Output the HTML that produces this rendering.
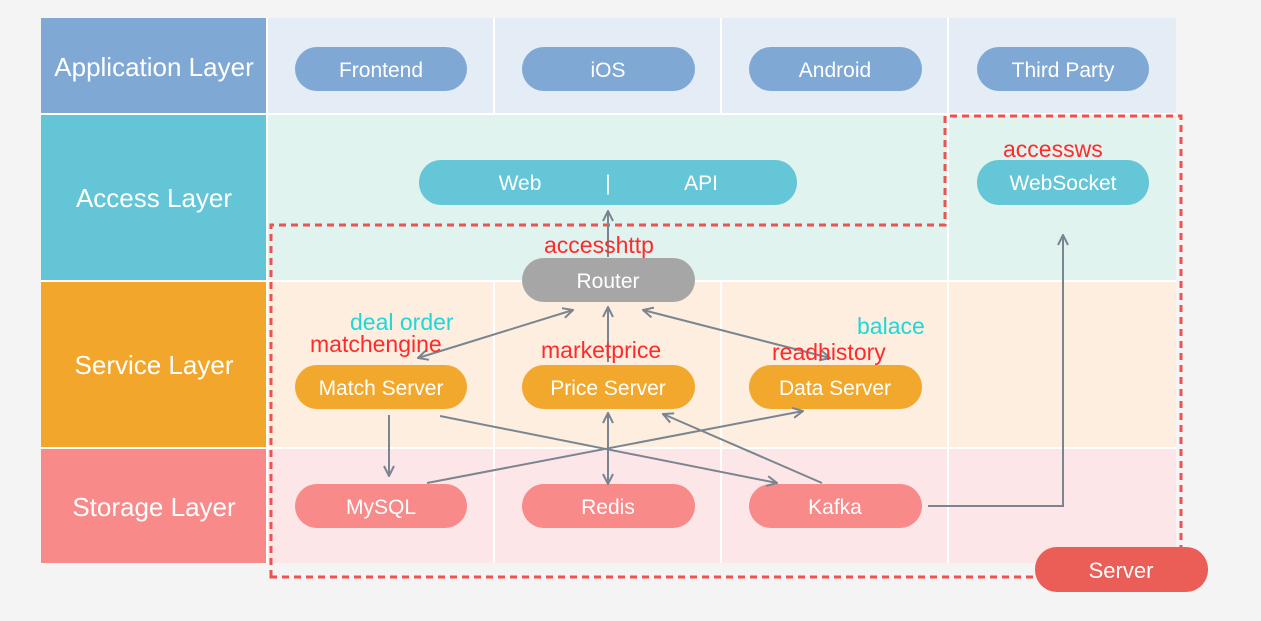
<!DOCTYPE html>
<html><head><style>body{margin:0;background:#f4f4f4;}svg{display:block}</style></head>
<body>
<svg width="1261" height="621" viewBox="0 0 1261 621" xmlns="http://www.w3.org/2000/svg" font-family="Liberation Sans, sans-serif">
<rect width="1261" height="621" fill="#f4f4f4"/>
<rect x="41" y="18" width="226" height="96" fill="#7fa8d4"/>
<rect x="267" y="18" width="909" height="96" fill="#e4ecf6"/>
<rect x="41" y="114" width="226" height="167" fill="#64c5d6"/>
<rect x="267" y="114" width="909" height="167" fill="#e0f3ef"/>
<rect x="41" y="281" width="226" height="167" fill="#f2a62b"/>
<rect x="267" y="281" width="909" height="167" fill="#fdeee0"/>
<rect x="41" y="448" width="226" height="115" fill="#f88a8a"/>
<rect x="267" y="448" width="909" height="115" fill="#fde6e7"/>
<g stroke="#ffffff" stroke-width="2">
<line x1="41" y1="114" x2="1176" y2="114"/><line x1="41" y1="281" x2="1176" y2="281"/><line x1="41" y1="448" x2="1176" y2="448"/>
<line x1="267" y1="18" x2="267" y2="563"/>
<line x1="494" y1="18" x2="494" y2="114"/><line x1="721" y1="18" x2="721" y2="114"/><line x1="948" y1="18" x2="948" y2="563"/>
<line x1="494" y1="281" x2="494" y2="563"/><line x1="721" y1="281" x2="721" y2="563"/>
</g>
<g fill="#fff" font-size="26" text-anchor="middle">
<text x="154" y="76">Application Layer</text>
<text x="154" y="207">Access Layer</text>
<text x="154" y="374">Service Layer</text>
<text x="154" y="516">Storage Layer</text>
</g>
<g>
<rect x="295" y="47" width="172" height="44" rx="22" fill="#7fa8d4"/>
<rect x="522" y="47" width="173" height="44" rx="22" fill="#7fa8d4"/>
<rect x="749" y="47" width="173" height="44" rx="22" fill="#7fa8d4"/>
<rect x="977" y="47" width="172" height="44" rx="22" fill="#7fa8d4"/>
<rect x="419" y="160" width="378" height="45" rx="22" fill="#64c6d6"/>
<rect x="977" y="160" width="172" height="45" rx="22" fill="#64c6d6"/>
<rect x="522" y="258" width="173" height="44" rx="22" fill="#a6a6a6"/>
<rect x="295" y="365" width="172" height="44" rx="22" fill="#f2a82c"/>
<rect x="522" y="365" width="173" height="44" rx="22" fill="#f2a82c"/>
<rect x="749" y="365" width="173" height="44" rx="22" fill="#f2a82c"/>
<rect x="295" y="484" width="172" height="44" rx="22" fill="#f88a8a"/>
<rect x="522" y="484" width="173" height="44" rx="22" fill="#f88a8a"/>
<rect x="749" y="484" width="173" height="44" rx="22" fill="#f88a8a"/>
</g>
<g fill="#fff" font-size="21" text-anchor="middle">
<text x="381" y="77">Frontend</text><text x="608" y="77">iOS</text><text x="835" y="77">Android</text><text x="1063" y="77">Third Party</text>
<text x="520" y="190">Web</text><text x="608" y="190">|</text><text x="701" y="190">API</text>
<text x="1063" y="190">WebSocket</text>
<text x="608" y="288">Router</text>
<text x="381" y="395">Match Server</text><text x="608" y="395">Price Server</text><text x="835" y="395">Data Server</text>
<text x="381" y="514">MySQL</text><text x="608" y="514">Redis</text><text x="835" y="514">Kafka</text>
</g>
<path d="M271 577 L271 225 L945 225 L945 116 L1181 116 L1181 577 Z" fill="none" stroke="#ee5250" stroke-width="3" stroke-dasharray="7 5"/>
<rect x="1035" y="547" width="173" height="45" rx="22" fill="#eb5e57"/>
<text x="1121" y="578" fill="#fff" font-size="22" text-anchor="middle">Server</text>
<defs><marker id="a" viewBox="0 0 12 12" refX="11" refY="6" markerWidth="12" markerHeight="12" orient="auto-start-reverse" markerUnits="userSpaceOnUse"><path d="M1 1 L11 6 L1 11" fill="none" stroke="#7a8590" stroke-width="2"/></marker></defs>
<g stroke="#7a8590" stroke-width="2" fill="none">
<line x1="608" y1="257" x2="608" y2="211" marker-end="url(#a)"/>
<line x1="418" y1="358" x2="573" y2="310" marker-start="url(#a)" marker-end="url(#a)"/>
<line x1="608" y1="362" x2="608" y2="307" marker-end="url(#a)"/>
<line x1="830" y1="358" x2="643" y2="310" marker-start="url(#a)" marker-end="url(#a)"/>
<line x1="389" y1="415" x2="389" y2="476" marker-end="url(#a)"/>
<line x1="440" y1="416" x2="777" y2="483" marker-end="url(#a)"/>
<line x1="427" y1="483" x2="803" y2="411" marker-end="url(#a)"/>
<line x1="608" y1="413" x2="608" y2="484" marker-start="url(#a)" marker-end="url(#a)"/>
<line x1="822" y1="483" x2="663" y2="414" marker-end="url(#a)"/>
<polyline points="928,506 1063,506 1063,235" marker-end="url(#a)"/>
</g>
<g font-size="23">
<text x="544" y="253" fill="#ff2a2a">accesshttp</text>
<text x="350" y="330" fill="#1ed8d8">deal order</text>
<text x="310" y="352" fill="#ff2a2a">matchengine</text>
<text x="541" y="358" fill="#ff2a2a">marketprice</text>
<text x="857" y="334" fill="#1ed8d8">balace</text>
<text x="772" y="360" fill="#ff2a2a">readhistory</text>
<text x="1003" y="157" fill="#ff2a2a">accessws</text>
</g>
</svg>
</body></html>
